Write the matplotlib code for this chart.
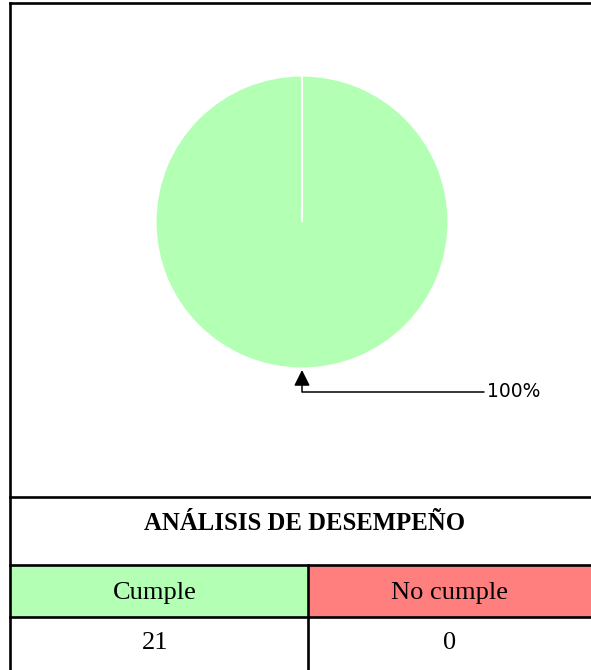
import matplotlib
matplotlib.use("Agg")
import matplotlib.pyplot as plt
import numpy as np

categories = ["Cumple", "No cumple"]
values = [21, 0]
colors = ["#b3ffb3", "#ff7f7f"]
header = "ANÁLISIS DE DESEMPEÑO"

W, H = 591, 670
fig = plt.figure(figsize=(W / 100, H / 100), dpi=100)

# table / frame layer in pixel coordinates
bg = fig.add_axes([0, 0, 1, 1])
bg.set_xlim(0, W)
bg.set_ylim(H, 0)
bg.axis("off")

lw = 1.9
left, right, col = 10, W + 2, 308
y_head, y_row1, y_row2 = 497, 565, 617

for i, c in enumerate(colors):
    x0 = left if i == 0 else col
    x1 = col if i == 0 else right
    bg.fill_between([x0, x1], y_row1, y_row2, color=c, lw=0)

bg.plot([left, right], [3, 3], color="black", lw=lw)
bg.plot([left, left], [3, H + 2], color="black", lw=lw)
for y in (y_head, y_row1, y_row2):
    bg.plot([left, right], [y, y], color="black", lw=lw)
bg.plot([col, col], [y_row1, H + 2], color="black", lw=lw)

serif = ["Liberation Serif", "DejaVu Serif"]
bg.text(305, 523, header, ha="center", va="center", fontsize=17.8,
        fontweight="bold", family=serif)
centers = [(left + col) / 2 - 4, (col + W) / 2]
for cx, cat, v in zip(centers, categories, values):
    bg.text(cx, 593, cat, ha="center", va="center", fontsize=19, family=serif)
    bg.text(cx, 643, str(v), ha="center", va="center", fontsize=19, family=serif)

# pie
cx, cy, r = 302, 222, 146.5
ax = fig.add_axes([(cx - r) / W, (H - cy - r) / H, 2 * r / W, 2 * r / H])
wedges, _ = ax.pie(values, colors=colors, startangle=90, counterclock=False,
                   radius=1, wedgeprops=dict(edgecolor="white", linewidth=1.5))
ax.set_xlim(-1, 1)
ax.set_ylim(-1, 1)
ax.set_aspect("equal")
ax.axis("off")

total = sum(values)
pct = 100 * values[0] / total
w = wedges[0]
mid = np.deg2rad((w.theta1 + w.theta2) / 2)
px, py = np.cos(mid), np.sin(mid)
ax.annotate(f"{pct:.0f}%", xy=(px, py - 0.01), xytext=(1.26, -1.16),
            ha="left", va="center", fontsize=13.5, annotation_clip=False,
            arrowprops=dict(arrowstyle="-|>,head_length=0.6,head_width=0.3",
                            color="black", lw=1.1,
                            connectionstyle="angle,angleA=0,angleB=90,rad=0",
                            shrinkA=0, shrinkB=0, mutation_scale=16))

fig.savefig("out.png", dpi=100)
